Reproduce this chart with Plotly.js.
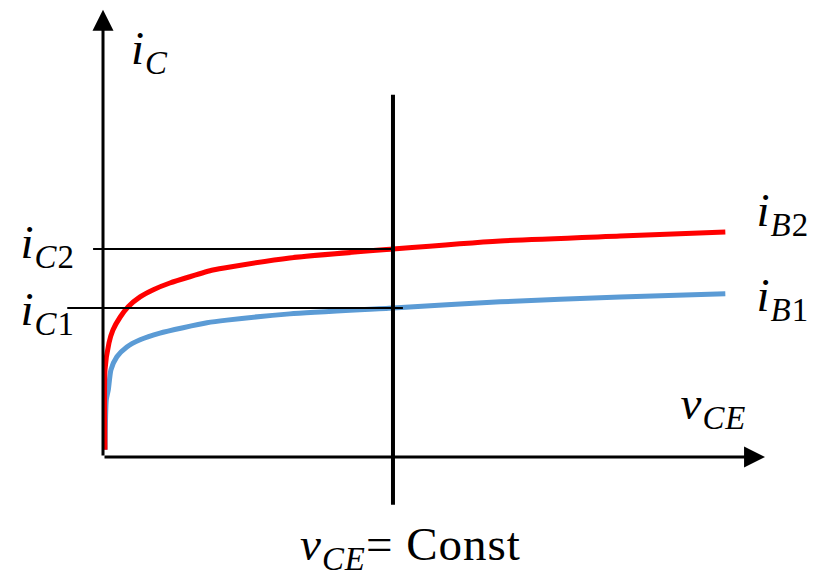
<!DOCTYPE html>
<html>
<head>
<meta charset="utf-8">
<script src="https://cdn.plot.ly/plotly-3.0.1.min.js"></script>
<style>
  html, body { margin: 0; padding: 0; background: #fff; }
  #chart { width: 818px; height: 579px; }
  #chart .annotation-text { letter-spacing: 1px; }
</style>
</head>
<body>
<div id="chart"></div>
<script>
// Output characteristics i_C(v_CE) for two base currents
const vceB2 = [0.03, 0.03, 0.09, 0.15, 0.26, 0.38, 0.56, 0.76, 1.01, 1.31, 1.66, 1.92, 2.82, 4.38, 6.00, 7.81, 9.40];
const icB2  = [0.16, 1.95, 2.55, 2.84, 3.13, 3.36, 3.58, 3.74, 3.89, 4.03, 4.18, 4.25, 4.45, 4.65, 4.83, 4.94, 5.03];

const vceB1 = [0.03, 0.05, 0.08, 0.12, 0.21, 0.36, 0.56, 0.86, 1.21, 1.57, 1.87, 2.82, 4.38, 6.00, 7.81, 9.40];
const icB1  = [0.16, 1.28, 1.50, 1.95, 2.24, 2.46, 2.62, 2.77, 2.89, 3.00, 3.06, 3.20, 3.33, 3.47, 3.58, 3.65];

// Operating column and the two read-off currents
const vceConst = 4.38;
const icLevels = [3.33, 4.65];   // i_C1, i_C2
const axisMax = 10;

const serif = "Liberation Serif, Times New Roman, serif";
const big = 47;

const traces = [
  { x: vceB1, y: icB1, mode: 'lines', line: { color: '#5B9BD5', width: 5, shape: 'spline', smoothing: 0.6 }, hoverinfo: 'skip' },
  { x: vceB2, y: icB2, mode: 'lines', line: { color: '#FF0000', width: 5, shape: 'spline', smoothing: 0.6 }, hoverinfo: 'skip' }
];

const shapes = [
  // vertical v_CE = Const line
  { type: 'line', x0: vceConst, x1: vceConst, y0: -1.07, y1: 8.10, line: { color: '#000', width: 4 } },
  // i_C2 level
  { type: 'line', x0: -0.15, x1: vceConst, y0: icLevels[1], y1: icLevels[1], line: { color: '#000', width: 2 } },
  // i_C1 level
  { type: 'line', x0: -0.54, x1: vceConst + 0.15, y0: icLevels[0], y1: icLevels[0], line: { color: '#000', width: 2 } }
];

function label(x, y, text) {
  return { x: x, y: y, xref: 'x', yref: 'y', text: text, showarrow: false,
           font: { family: serif, size: big, color: '#000' }, xanchor: 'center', yanchor: 'middle' };
}

const annotations = [
  // axes drawn as arrows
  { x: 0, y: axisMax, ax: 0, ay: 0, xref: 'x', yref: 'y', axref: 'x', ayref: 'y', text: '',
    showarrow: true, arrowhead: 2, arrowsize: 1.4, arrowwidth: 3, arrowcolor: '#000' },
  { x: axisMax, y: 0, ax: 0, ay: 0, xref: 'x', yref: 'y', axref: 'x', ayref: 'y', text: '',
    showarrow: true, arrowhead: 2, arrowsize: 1.4, arrowwidth: 3, arrowcolor: '#000' },
  label(0.71, 9.07, '<i>i</i><sub><i>C</i></sub>'),
  label(-0.84, 4.72, '<i>i</i><sub><i>C</i>2</sub>'),
  label(-0.84, 3.22, '<i>i</i><sub><i>C</i>1</sub>'),
  label(10.27, 5.45, '<i>i</i><sub><i>B</i>2</sub>'),
  label(10.27, 3.55, '<i>i</i><sub><i>B</i>1</sub>'),
  label(9.22, 1.13, '<i>v</i><sub><i>CE</i></sub>'),
  label(4.65, -2.03, '<i>v</i><sub><i>CE</i></sub>= Const')
];

const layout = {
  width: 818, height: 579,
  margin: { l: 0, r: 0, t: 0, b: 0 },
  paper_bgcolor: '#fff', plot_bgcolor: '#fff',
  showlegend: false,
  xaxis: { range: [-1.556, 10.80], visible: false, fixedrange: true },
  yaxis: { range: [-2.73, 10.22], visible: false, fixedrange: true },
  shapes: shapes,
  annotations: annotations
};

Plotly.newPlot('chart', traces, layout, { staticPlot: true, displayModeBar: false });
</script>
</body>
</html>
